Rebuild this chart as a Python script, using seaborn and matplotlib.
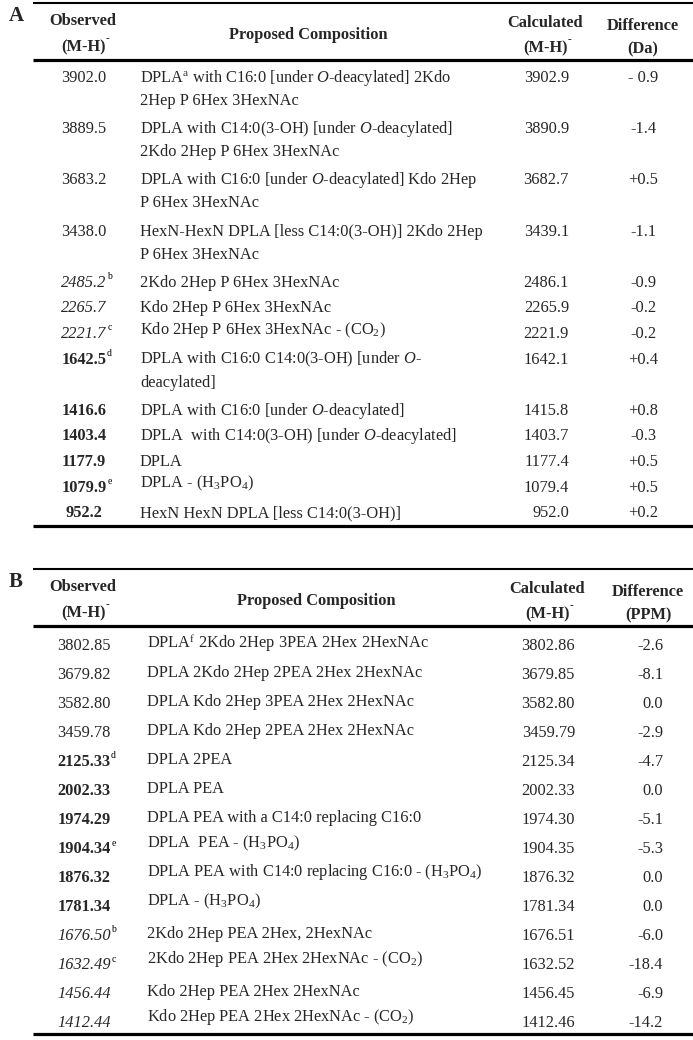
import matplotlib
matplotlib.use("Agg")
import matplotlib.pyplot as plt
import seaborn as sns

# ---- Panel A data ----
obs_a = ["3902.0", "3889.5", "3683.2", "3438.0", "2485.2", "2265.7", "2221.7",
         "1642.5", "1416.6", "1403.4", "1177.9", "1079.9", "952.2"]
obs_note_a = ["", "", "", "", "b", "", "c", "d", "", "", "", "e", ""]
comp_a = [
    "DPLA$^{\\mathrm{a}}$ with C16:0 [under $\\mathit{O}$-deacylated] 2Kdo\n2Hep P 6Hex 3HexNAc",
    "DPLA with C14:0(3-OH) [under $\\mathit{O}$-deacylated]\n2Kdo 2Hep P 6Hex 3HexNAc",
    "DPLA with C16:0 [under $\\mathit{O}$-deacylated] Kdo 2Hep\nP 6Hex 3HexNAc",
    "HexN-HexN DPLA [less C14:0(3-OH)] 2Kdo 2Hep\nP 6Hex 3HexNAc",
    "2Kdo 2Hep P 6Hex 3HexNAc",
    "Kdo 2Hep P 6Hex 3HexNAc",
    "Kdo 2Hep P 6Hex 3HexNAc - (CO$_2$)",
    "DPLA with C16:0 C14:0(3-OH) [under $\\mathit{O}$-\ndeacylated]",
    "DPLA with C16:0 [under $\\mathit{O}$-deacylated]",
    "DPLA  with C14:0(3-OH) [under $\\mathit{O}$-deacylated]",
    "DPLA",
    "DPLA - (H$_3$PO$_4$)",
    "HexN HexN DPLA [less C14:0(3-OH)]",
]
calc_a = ["3902.9", "3890.9", "3682.7", "3439.1", "2486.1", "2265.9", "2221.9",
          "1642.1", "1415.8", "1403.7", "1177.4", "1079.4", "952.0"]
diff_a = ["- 0.9", "-1.4", "+0.5", "-1.1", "-0.9", "-0.2", "-0.2",
          "+0.4", "+0.8", "-0.3", "+0.5", "+0.5", "+0.2"]

# ---- Panel B data ----
obs_b = ["3802.85", "3679.82", "3582.80", "3459.78", "2125.33", "2002.33", "1974.29",
         "1904.34", "1876.32", "1781.34", "1676.50", "1632.49", "1456.44", "1412.44"]
obs_note_b = ["", "", "", "", "d", "", "", "e", "", "", "b", "c", "", ""]
comp_b = [
    "DPLA$^{\\mathrm{f}}$ 2Kdo 2Hep 3PEA 2Hex 2HexNAc",
    "DPLA 2Kdo 2Hep 2PEA 2Hex 2HexNAc",
    "DPLA Kdo 2Hep 3PEA 2Hex 2HexNAc",
    "DPLA Kdo 2Hep 2PEA 2Hex 2HexNAc",
    "DPLA 2PEA",
    "DPLA PEA",
    "DPLA PEA with a C14:0 replacing C16:0",
    "DPLA  PEA - (H$_3$PO$_4$)",
    "DPLA PEA with C14:0 replacing C16:0 - (H$_3$PO$_4$)",
    "DPLA - (H$_3$PO$_4$)",
    "2Kdo 2Hep PEA 2Hex, 2HexNAc",
    "2Kdo 2Hep PEA 2Hex 2HexNAc - (CO$_2$)",
    "Kdo 2Hep PEA 2Hex 2HexNAc",
    "Kdo 2Hep PEA 2Hex 2HexNAc - (CO$_2$)",
]
calc_b = ["3802.86", "3679.85", "3582.80", "3459.79", "2125.34", "2002.33", "1974.30",
          "1904.35", "1876.32", "1781.34", "1676.51", "1632.52", "1456.45", "1412.46"]
diff_b = ["-2.6", "-8.1", "0.0", "-2.9", "-4.7", "0.0", "-5.1",
          "-5.3", "0.0", "0.0", "-6.0", "-18.4", "-6.9", "-14.2"]

headers_a = ["Observed\n(M-H)", "Proposed Composition", "Calculated\n(M-H)", "Difference\n(Da)"]
headers_b = ["Observed\n(M-H)", "Proposed Composition", "Calculated\n(M-H)", "Difference\n(PPM)"]

sns.set_theme(style="white")
plt.rcParams["font.family"] = ["Liberation Serif", "DejaVu Serif"]
plt.rcParams["mathtext.fontset"] = "custom"
plt.rcParams["mathtext.rm"] = "Liberation Serif"
plt.rcParams["mathtext.it"] = "Liberation Serif:italic"
plt.rcParams["mathtext.bf"] = "Liberation Serif:bold"

FS = 11.8
fig = plt.figure(figsize=(6.93, 10.40), dpi=100)
ax = fig.add_axes([0, 0, 1, 1])
ax.set_xlim(0, 693)
ax.set_ylim(1040, 0)
ax.axis("off")
renderer = fig.canvas.get_renderer()


def add_mark(t, note, rise=7.5, size=7):
    # small superscript just right of an existing text
    bb = t.get_window_extent(renderer).transformed(ax.transData.inverted())
    x, y = t.get_position()
    ax.text(max(bb.x0, bb.x1) + 0.5, y - rise, note, fontsize=size,
            ha="left", va="baseline", fontweight="normal", color="black")


def draw_panel(label, top, headers, hx, obs, notes, kinds, comps, calc, diff,
               comp_x, comp_lift, calc_x, calc_ha, diff_x, diff_ha, first, pitch, bottom):
    ax.text(9, top + 13, label, fontsize=15, fontweight="bold", ha="left", va="center")
    ax.plot([33, 693], [top, top], color="black", lw=1.5, solid_capstyle="butt")
    hy = top + 57
    ax.plot([33, 693], [hy, hy], color="black", lw=2.3, solid_capstyle="butt")
    ax.plot([33, 693], [bottom, bottom], color="black", lw=2.3, solid_capstyle="butt")

    # header cells
    line_y = [[top + 22, top + 48], [top + 36], [top + 24, top + 49], [top + 27, top + 50]]
    for i, h in enumerate(headers):
        for j, part in enumerate(h.split("\n")):
            t = ax.text(hx[i], line_y[i][j], part, fontsize=FS, fontweight="bold",
                        ha="center", va="baseline")
            if part == "(M-H)":
                add_mark(t, "-", rise=10, size=8)

    y = first
    for k in range(len(obs)):
        base = y + 5
        style = "italic" if kinds[k] == "i" else "normal"
        weight = "bold" if kinds[k] == "b" else "normal"
        t = ax.text(84, base, obs[k], fontsize=FS, ha="center", va="baseline",
                    fontstyle=style, fontweight=weight)
        if notes[k]:
            add_mark(t, notes[k])
        lines = comps[k].split("\n")
        # rows with chemical subscripts sit a little higher in the source table
        lift = comp_lift + (4 if "$_" in comps[k] else 0)
        for j, line in enumerate(lines):
            ax.text(comp_x, base - lift + 23 * j, line, fontsize=FS, ha="left", va="baseline")
        ax.text(calc_x, base, calc[k], fontsize=FS, ha=calc_ha, va="baseline")
        ax.text(diff_x, base, diff[k], fontsize=FS, ha=diff_ha, va="baseline")
        y += pitch * len(lines)


kinds_a = ["n"] * 4 + ["i"] * 3 + ["b"] * 6
kinds_b = ["n"] * 4 + ["b"] * 6 + ["i"] * 4

draw_panel("A", 3, headers_a, [83, 308, 545, 643], obs_a, obs_note_a, kinds_a, comp_a,
           calc_a, diff_a, comp_x=140, comp_lift=0, calc_x=569, calc_ha="right",
           diff_x=643, diff_ha="center", first=77, pitch=25.6, bottom=526)
draw_panel("B", 569, headers_b, [83, 316, 547, 648], obs_b, obs_note_b, kinds_b, comp_b,
           calc_b, diff_b, comp_x=147, comp_lift=2, calc_x=575, calc_ha="right",
           diff_x=663, diff_ha="right", first=645, pitch=29.0, bottom=1034)

fig.savefig("out.png", dpi=100)
